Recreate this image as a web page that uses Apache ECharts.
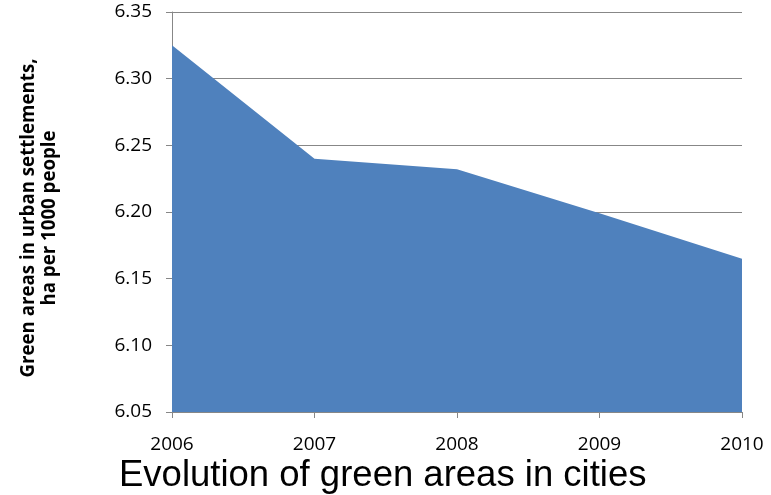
<!DOCTYPE html>
<html><head><meta charset="utf-8">
<script src="https://cdn.jsdelivr.net/npm/echarts@6/dist/echarts.min.js"></script>
<style>html,body{margin:0;padding:0;background:#fff}#c{width:771px;height:495px}</style>
</head><body><div id="c"></div>
<script>
const years = ['2006','2007','2008','2009','2010'];
const greenAreas = [6.325, 6.240, 6.232, 6.199, 6.165];
const yTicks = {min: 6.05, max: 6.35, interval: 0.05};
const titleText = 'Evolution of green areas in cities';
const yName = 'Green areas in urban settlements,\nha per 1000 people';

const chart = echarts.init(document.getElementById('c'), null, {renderer:'canvas'});
chart.setOption({
  animation:false,
  title:{text:titleText, left:114, top:453,
    textStyle:{fontFamily:'Liberation Sans', fontSize:36.5, fontWeight:'normal', color:'#000', lineHeight:36.5}},
  grid:{left:172, right:29, top:12, bottom:83},
  xAxis:{type:'category', data:years, boundaryGap:false,
    axisLine:{lineStyle:{color:'#878787', width:1}},
    axisTick:{show:true, alignWithLabel:true, length:6, lineStyle:{color:'#878787'}},
    axisLabel:{color:'#000', fontFamily:'Open Sans', fontSize:19, margin:23},
    splitLine:{show:false}},
  yAxis:{type:'value', min:yTicks.min, max:yTicks.max, interval:yTicks.interval,
    name:yName, nameLocation:'middle', nameRotate:90, nameGap:112,
    nameTextStyle:{fontFamily:'Open Sans', fontSize:18.7, fontWeight:'bold', color:'#000', lineHeight:21,
      padding:[0,12,0,0]},
    axisLine:{show:true, lineStyle:{color:'#878787', width:1}},
    axisTick:{show:true, length:6, lineStyle:{color:'#878787'}},
    axisLabel:{color:'#000', fontFamily:'Open Sans', fontSize:19, margin:20,
      formatter:v=>v.toFixed(2)},
    splitLine:{show:true, lineStyle:{color:'#878787', width:1}}},
  series:[{type:'line', data:greenAreas, symbol:'none',
    lineStyle:{width:0}, areaStyle:{color:'#4F81BD', opacity:1, origin:'start'},
    itemStyle:{color:'#4F81BD'}}]
});
</script></body></html>
